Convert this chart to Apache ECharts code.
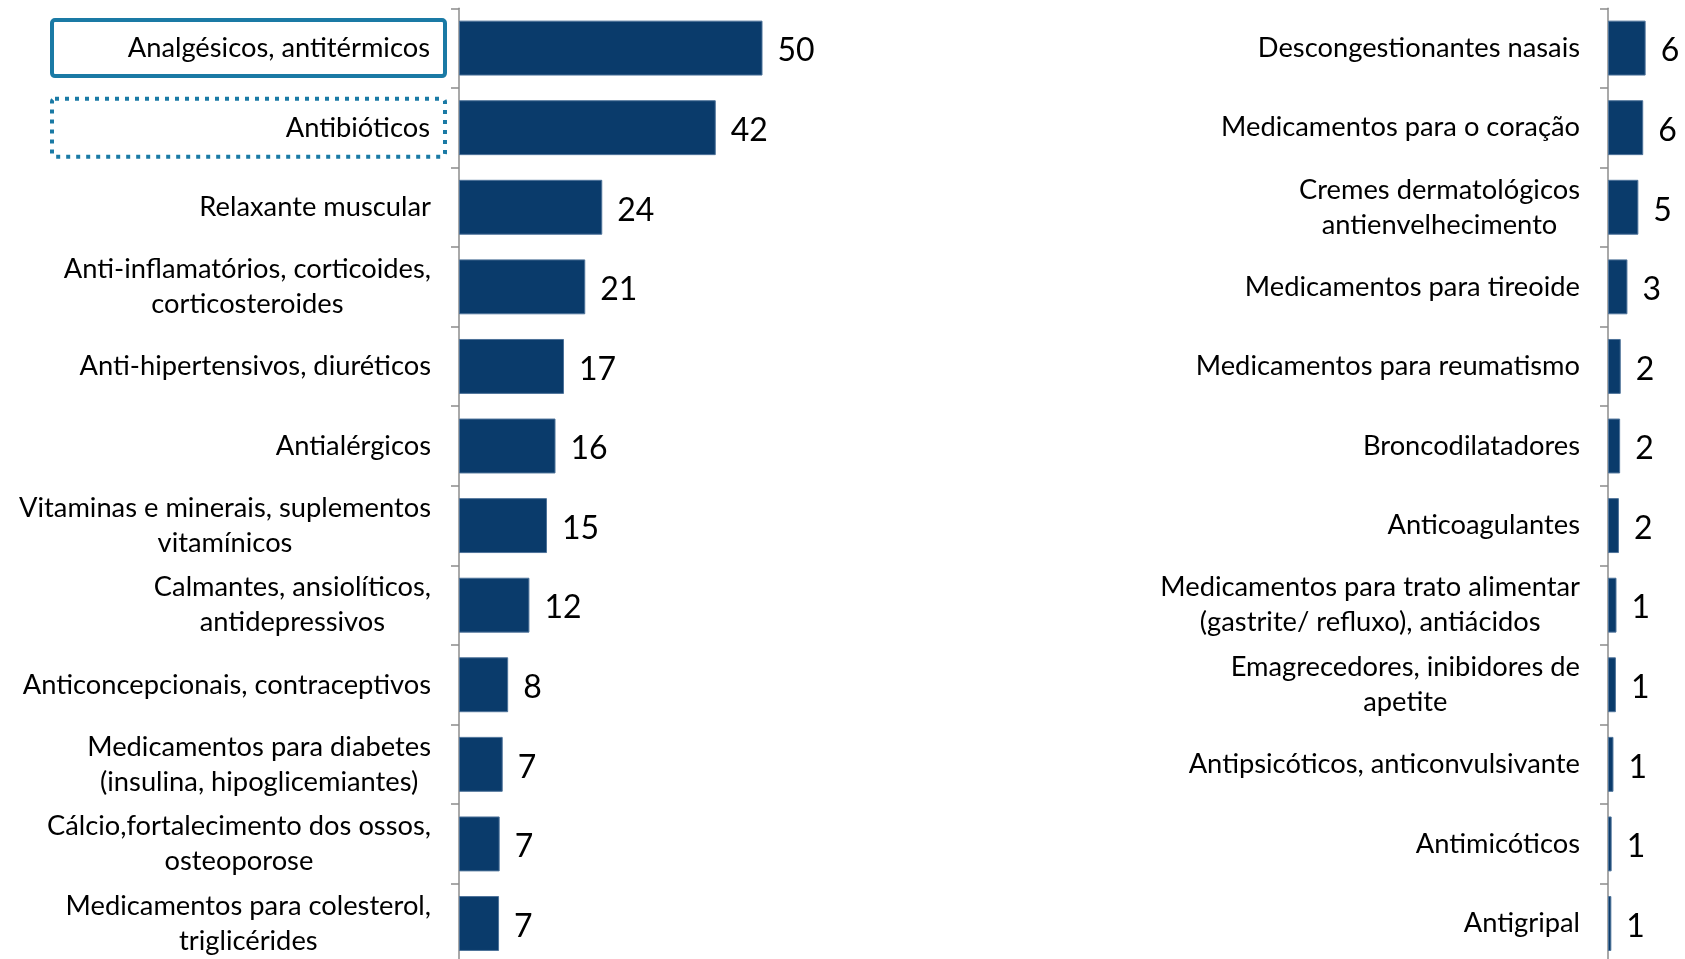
<!DOCTYPE html>
<html>
<head>
<meta charset="utf-8">
<script src="https://cdn.jsdelivr.net/npm/echarts@6/dist/echarts.min.js"></script>
<style>
html,body{margin:0;padding:0;background:#fff;}
#chart{width:1685px;height:959px;}
</style>
</head>
<body>
<div id="chart"></div>
<script>
// Left panel
const leftCategories = [
  'Analgésicos, antitérmicos',
  'Antibióticos',
  'Relaxante muscular',
  'Anti-inflamatórios, corticoides,\ncorticosteroides',
  'Anti-hipertensivos, diuréticos',
  'Antialérgicos',
  'Vitaminas e minerais, suplementos\nvitamínicos',
  'Calmantes, ansiolíticos,\nantidepressivos',
  'Anticoncepcionais, contraceptivos',
  'Medicamentos para diabetes\n(insulina, hipoglicemiantes)',
  'Cálcio,fortalecimento dos ossos,\nosteoporose',
  'Medicamentos para colesterol,\ntriglicérides'
];
const leftValues = [50.0, 42.3, 23.6, 20.8, 17.3, 15.9, 14.5, 11.6, 8.1, 7.2, 6.7, 6.6];

// Right panel
const rightCategories = [
  'Descongestionantes nasais',
  'Medicamentos para o coração',
  'Cremes dermatológicos\nantienvelhecimento',
  'Medicamentos para tireoide',
  'Medicamentos para reumatismo',
  'Broncodilatadores',
  'Anticoagulantes',
  'Medicamentos para trato alimentar\n(gastrite/ refluxo), antiácidos',
  'Emagrecedores, inibidores de\napetite',
  'Antipsicóticos, anticonvulsivante',
  'Antimicóticos',
  'Antigripal'
];
const rightValues = [6.2, 5.8, 5.0, 3.2, 2.1, 2.0, 1.8, 1.4, 1.3, 0.9, 0.6, 0.55];

// Highlighted (boxed) categories on the left panel
const solidBoxIndex = 0;
const dottedBoxIndex = 1;

const FONT = 'Lato';
const CAT_SIZE = 27.3;
const BAR_COLOR = '#0a3b6b';
const AXIS_COLOR = '#8c8c8c';
const BOX_COLOR = '#1a7aa5';

const chart = echarts.init(document.getElementById('chart'), null, {renderer: 'canvas'});

const pxPerUnit = 6.07;
const leftMax = 100, rightMax = 12;

function catAxis(gridIndex, data, margin, formatter, rich) {
  return {
    type: 'category', gridIndex: gridIndex, data: data, inverse: true,
    axisLine: {show: true, lineStyle: {color: AXIS_COLOR, width: 1.5}},
    axisTick: {show: true, length: 8, lineStyle: {color: AXIS_COLOR, width: 1.5}},
    axisLabel: {
      interval: 0, margin: margin, align: 'right',
      fontFamily: FONT, fontSize: CAT_SIZE, color: '#000', lineHeight: 35,
      formatter: formatter, rich: rich
    }
  };
}

const baseRich = {
  c: {align: 'center', fontFamily: FONT, fontSize: CAT_SIZE, color: '#000', lineHeight: 35},
  sp: {align: 'right', width: 14, fontSize: CAT_SIZE, lineHeight: 35}
};

const leftRich = Object.assign({}, baseRich, {
  solid: {
    align: 'right', fontFamily: FONT, fontSize: CAT_SIZE, color: '#000',
    width: 378, padding: [15, 15, 14, 0],
    borderColor: BOX_COLOR, borderWidth: 4, borderRadius: 3
  },
  dotted: {
    align: 'right', fontFamily: FONT, fontSize: CAT_SIZE, color: '#000',
    width: 378, padding: [16, 15, 15, 0],
    borderColor: BOX_COLOR, borderWidth: 4, borderRadius: 3, borderType: [4, 6]
  }
});

const rightRich = {
  c: {align: 'center', fontFamily: FONT, fontSize: CAT_SIZE, color: '#000', lineHeight: 35}
};

function leftFormatter(value, idx) {
  if (idx === solidBoxIndex) return '{solid|' + value + '}';
  if (idx === dottedBoxIndex) return '{dotted|' + value + '}';
  return value.split('\n').map(l => '{c|' + l + '}{sp| }').join('\n');
}
function rightFormatter(value) {
  return value.split('\n').map(l => '{c|' + l + '}').join('\n');
}

function barSeries(axisIndex, values) {
  return {
    type: 'bar', xAxisIndex: axisIndex, yAxisIndex: axisIndex, data: values,
    barCategoryGap: '31%',
    itemStyle: {color: BAR_COLOR, borderColor: '#4d7299', borderWidth: 1},
    label: {
      show: true, position: 'right', distance: 15, offset: [0, 3],
      fontFamily: FONT, fontSize: 32, color: '#000',
      formatter: p => String(Math.round(p.value))
    },
    silent: true
  };
}

chart.setOption({
  animation: false,
  backgroundColor: '#fff',
  grid: [
    {left: 459, top: 8.3, width: pxPerUnit * leftMax, height: 955, outerBoundsMode: 'none', containLabel: false},
    {left: 1608, top: 8.3, width: pxPerUnit * rightMax, height: 955, outerBoundsMode: 'none', containLabel: false}
  ],
  xAxis: [
    {type: 'value', gridIndex: 0, min: 0, max: leftMax, show: false},
    {type: 'value', gridIndex: 1, min: 0, max: rightMax, show: false}
  ],
  yAxis: [
    catAxis(0, leftCategories, 14, leftFormatter, leftRich),
    catAxis(1, rightCategories, 28, rightFormatter, rightRich)
  ],
  series: [barSeries(0, leftValues), barSeries(1, rightValues)]
});
</script>
</body>
</html>
